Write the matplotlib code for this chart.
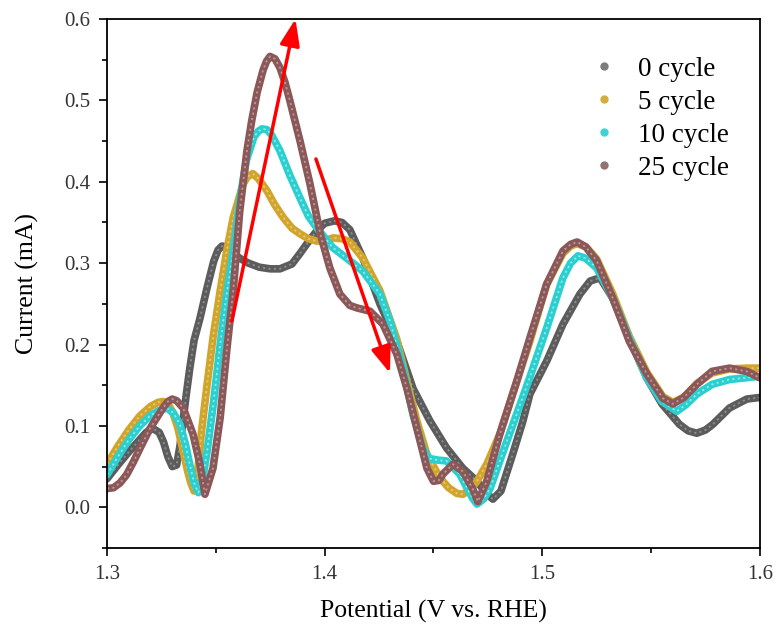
import matplotlib.pyplot as plt
from matplotlib.lines import Line2D

# Potential (V vs. RHE) and current (mA) for each cycle count
v_0 = [1.300, 1.305, 1.310, 1.315, 1.318, 1.321, 1.324, 1.326, 1.328, 1.330, 1.332, 1.3335, 1.335,
       1.3365, 1.338, 1.340, 1.3427, 1.346, 1.349, 1.351, 1.3528, 1.355, 1.357, 1.361, 1.365, 1.370,
       1.375, 1.3795, 1.385, 1.3887, 1.393, 1.3965, 1.400, 1.4045, 1.408, 1.4116, 1.4176, 1.4254,
       1.4332, 1.4406, 1.4484, 1.456, 1.4635, 1.470, 1.474, 1.4773, 1.481, 1.4865, 1.491, 1.4943,
       1.5021, 1.5095, 1.5173, 1.522, 1.5265, 1.5324, 1.540, 1.548, 1.555, 1.563, 1.567, 1.571,
       1.575, 1.5784, 1.586, 1.594, 1.600]
i_0 = [0.035, 0.052, 0.068, 0.083, 0.092, 0.097, 0.092, 0.080, 0.062, 0.050, 0.052, 0.075, 0.108,
       0.140, 0.170, 0.205, 0.232, 0.270, 0.302, 0.316, 0.321, 0.320, 0.314, 0.306, 0.300, 0.295,
       0.293, 0.293, 0.299, 0.312, 0.328, 0.340, 0.349, 0.352, 0.350, 0.341, 0.306, 0.250,
       0.204, 0.146, 0.106, 0.073, 0.048, 0.032, 0.018, 0.010, 0.020, 0.066, 0.105, 0.139,
       0.180, 0.225, 0.262, 0.278, 0.282, 0.257, 0.208, 0.159, 0.127, 0.102, 0.094, 0.091,
       0.095, 0.102, 0.122, 0.133, 0.135]

v_5 = [1.300, 1.305, 1.310, 1.315, 1.320, 1.3235, 1.3257, 1.328, 1.330, 1.3325, 1.335, 1.337, 1.3385,
       1.340, 1.3415, 1.3435, 1.346, 1.3487, 1.352, 1.355, 1.358, 1.3625, 1.3645, 1.367, 1.3695,
       1.3735, 1.377, 1.381, 1.385, 1.3887, 1.3925, 1.3965, 1.400, 1.404, 1.408, 1.4116, 1.4176,
       1.4254, 1.433, 1.4378, 1.4424, 1.447, 1.453, 1.457, 1.4608, 1.4635, 1.467, 1.470, 1.4745,
       1.4805, 1.4883, 1.4943, 1.502, 1.5095, 1.513, 1.516, 1.520, 1.525, 1.5324, 1.540, 1.548,
       1.5554, 1.560, 1.565, 1.571, 1.578, 1.586, 1.594, 1.600]
i_5 = [0.053, 0.075, 0.095, 0.112, 0.124, 0.129, 0.130, 0.127, 0.118, 0.098, 0.069, 0.045, 0.030,
       0.020, 0.040, 0.095, 0.151, 0.208, 0.266, 0.315, 0.356, 0.397, 0.406, 0.410, 0.404,
       0.389, 0.372, 0.356, 0.343, 0.336, 0.330, 0.327, 0.328, 0.331, 0.330, 0.326, 0.306,
       0.266, 0.208, 0.155, 0.106, 0.065, 0.036, 0.024, 0.017, 0.016, 0.022, 0.032, 0.053,
       0.090, 0.155, 0.204, 0.274, 0.312, 0.321, 0.324, 0.320, 0.305, 0.262, 0.210, 0.166,
       0.136, 0.129, 0.135, 0.152, 0.165, 0.170, 0.171, 0.171]

v_10 = [1.300, 1.305, 1.310, 1.315, 1.320, 1.324, 1.3275, 1.3305, 1.3335, 1.336, 1.338, 1.340, 1.342,
        1.344, 1.346, 1.349, 1.352, 1.355, 1.358, 1.361, 1.364, 1.3675, 1.3695, 1.3712, 1.3735,
        1.3755, 1.3795, 1.384, 1.3887, 1.3925, 1.3965, 1.4038, 1.4116, 1.4176, 1.4254, 1.430,
        1.436, 1.4406, 1.445, 1.448, 1.452, 1.456, 1.462, 1.468, 1.470, 1.473, 1.476, 1.4837,
        1.491, 1.4943, 1.502, 1.5095, 1.513, 1.5164, 1.520, 1.525, 1.5324, 1.540, 1.548, 1.555,
        1.5618, 1.566, 1.571, 1.578, 1.586, 1.600]
i_10 = [0.040, 0.062, 0.083, 0.100, 0.113, 0.119, 0.122, 0.116, 0.102, 0.078, 0.053, 0.030, 0.018,
        0.035, 0.069, 0.130, 0.200, 0.262, 0.315, 0.377, 0.426, 0.455, 0.462, 0.465, 0.464,
        0.458, 0.438, 0.408, 0.380, 0.358, 0.343, 0.319, 0.303, 0.290, 0.262, 0.229,
        0.171, 0.114, 0.073, 0.060, 0.058, 0.057, 0.041, 0.011, 0.004, 0.010, 0.023, 0.081,
        0.135, 0.160, 0.220, 0.282, 0.300, 0.309, 0.306, 0.294, 0.257, 0.208, 0.159, 0.130,
        0.118, 0.126, 0.139, 0.151, 0.157, 0.161]

v_25 = [1.300, 1.303, 1.306, 1.309, 1.312, 1.316, 1.3198, 1.3257, 1.328, 1.330, 1.332, 1.335,
        1.3395, 1.3427, 1.345, 1.3487, 1.352, 1.355, 1.358, 1.361, 1.3643, 1.3665, 1.369, 1.3717,
        1.3733, 1.3749, 1.3772, 1.3795, 1.3818, 1.384, 1.3887, 1.3933, 1.398, 1.4024, 1.407,
        1.4116, 1.4148, 1.4208, 1.4268, 1.4332, 1.4378, 1.4424, 1.447, 1.450, 1.4525, 1.4544,
        1.459, 1.4635, 1.468, 1.4704, 1.4745, 1.4805, 1.4883, 1.4943, 1.502, 1.5095, 1.513,
        1.516, 1.520, 1.525, 1.5324, 1.540, 1.548, 1.5554, 1.560, 1.565, 1.571, 1.578, 1.586,
        1.594, 1.600]
i_25 = [0.023, 0.024, 0.030, 0.040, 0.055, 0.077, 0.097, 0.122, 0.130, 0.133, 0.131, 0.122,
        0.090, 0.053, 0.016, 0.048, 0.110, 0.192, 0.266, 0.364, 0.438, 0.475, 0.510, 0.537,
        0.548, 0.554, 0.551, 0.540, 0.522, 0.500, 0.450, 0.397, 0.336, 0.294, 0.262,
        0.248, 0.245, 0.241, 0.225, 0.188, 0.146, 0.097, 0.048, 0.032, 0.033, 0.041,
        0.053, 0.044, 0.023, 0.007, 0.032, 0.090, 0.155, 0.208, 0.274, 0.315, 0.323,
        0.326, 0.320, 0.303, 0.257, 0.204, 0.164, 0.134, 0.127, 0.135, 0.151, 0.167, 0.171,
        0.167, 0.159]

labels = ['0 cycle', '5 cycle', '10 cycle', '25 cycle']
colors = ['#5c5c5c', '#d1a52c', '#2ccfcf', '#8a5858']
bead_colors = ['#9a9a9a', '#ecd08a', '#a8f0f0', '#c9a5a5']
legend_colors = ['#7d7d7d', '#d2ae3c', '#3fd3d3', '#927272']

plt.rcParams['font.family'] = ['Liberation Serif', 'DejaVu Serif']

fig = plt.figure(figsize=(7.77, 6.33), dpi=100)
ax = fig.add_axes([0.1377, 0.1343, 0.8403, 0.8357])

series = [(v_0, i_0), (v_5, i_5), (v_10, i_10), (v_25, i_25)]
for (v, i), c, bc in zip(series, colors, bead_colors):
    ax.plot(v, i, color=c, lw=5.5, solid_capstyle='round', solid_joinstyle='round')
    ax.plot(v, i, color=bc, lw=1.3, ls=(0, (1.2, 1.8)), alpha=0.8)

# red trend arrows
arrow_kw = dict(arrowstyle='-|>,head_length=1.6,head_width=0.6', color='#ff0000', lw=2.5,
                shrinkA=0, shrinkB=0)
ax.annotate('', xy=(1.3866, 0.600), xytext=(1.3574, 0.229), arrowprops=arrow_kw,
            annotation_clip=False)
ax.annotate('', xy=(1.4300, 0.165), xytext=(1.3960, 0.428), arrowprops=arrow_kw)

ax.set_xlim(1.3, 1.6)
ax.set_ylim(-0.05, 0.6)
ax.set_xticks([1.3, 1.4, 1.5, 1.6])
ax.set_xticks([1.35, 1.45, 1.55], minor=True)
ax.set_yticks([0.0, 0.1, 0.2, 0.3, 0.4, 0.5, 0.6])
ax.set_yticks([-0.05, 0.05, 0.15, 0.25, 0.35, 0.45, 0.55], minor=True)
ax.set_yticklabels(['0.0', '0.1', '0.2', '0.3', '0.4', '0.5', '0.6'])
ax.tick_params(which='major', direction='out', length=6, width=1.2, labelsize=15,
               colors='black', pad=6)
ax.tick_params(which='minor', direction='out', length=3.5, width=1.2)
ax.tick_params(axis='both', labelcolor='#333333')
for sp in ax.spines.values():
    sp.set_linewidth(1.3)

ax.set_xlabel('Potential (V vs. RHE)', fontsize=18.5, labelpad=12)
ax.set_ylabel('Current (mA)', fontsize=18.5, labelpad=18)

handles = [Line2D([], [], ls='none', marker='o', markersize=5, color=c, markeredgecolor=c)
           for c in legend_colors]
ax.legend(handles, labels, loc='upper right', bbox_to_anchor=(0.99, 0.975), frameon=False,
          fontsize=19.5, handlelength=1.0, handletextpad=0.75, labelspacing=0.3)

fig.savefig('out.png', dpi=100)
